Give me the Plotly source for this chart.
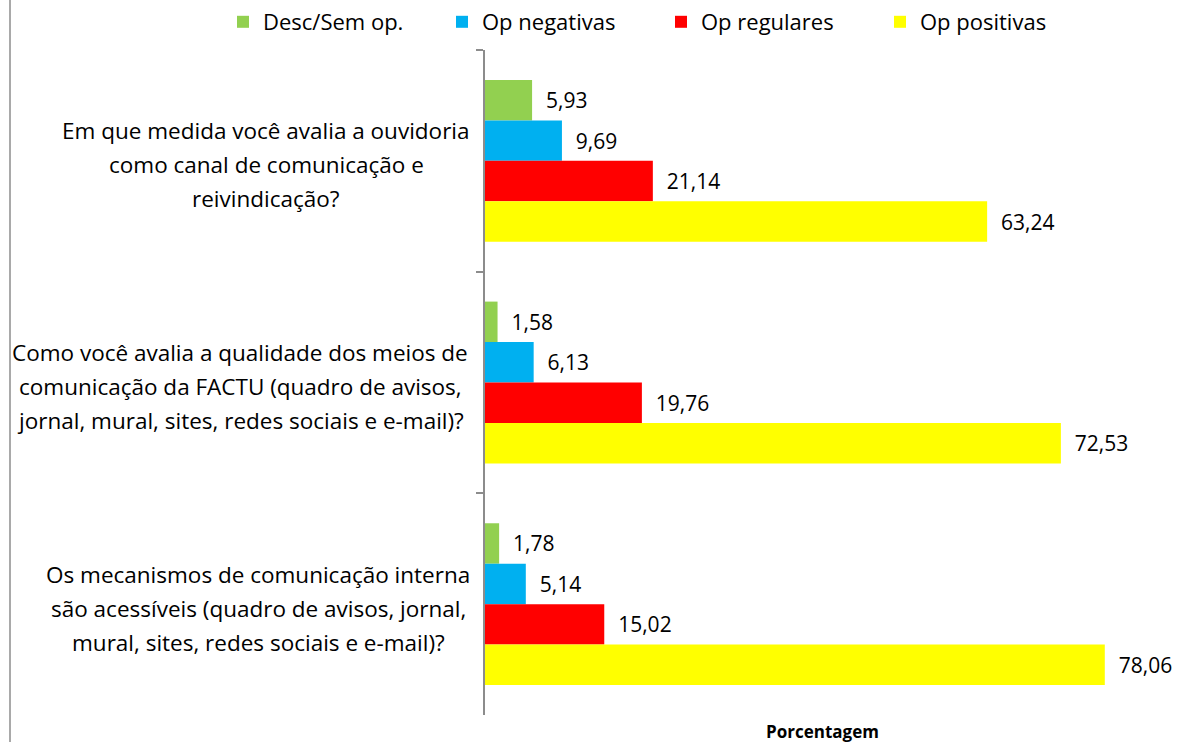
import plotly.graph_objects as go

categories = [
    "Em que medida você avalia a ouvidoria<br>como canal de comunicação e<br>reivindicação?",
    "Como você avalia a qualidade dos meios de<br>comunicação da FACTU (quadro de avisos,<br>jornal, mural, sites, redes sociais e e-mail)?",
    "Os mecanismos de comunicação interna<br>são acessíveis (quadro de avisos, jornal,<br>mural, sites, redes sociais e e-mail)?",
]
cat_ids = ["q1", "q2", "q3"]
series_names = ["Desc/Sem op.", "Op negativas", "Op regulares", "Op positivas"]
desc = [5.93, 1.58, 1.78]
neg = [9.69, 6.13, 5.14]
reg = [21.14, 19.76, 15.02]
pos = [63.24, 72.53, 78.06]
colors = ["#92d050", "#00b0f0", "#ff0000", "#ffff00"]

# horizontal centre (px) of each category label block
label_centers_px = [266, 240, 258]

W, H = 1184, 742
L, T, B = 485, 50, 27
R = 0
plot_w = W - L - R
plot_h = H - T - B
px_per_unit = 7.94
xmax = plot_w / px_per_unit

fig = go.Figure()
for name, vals, col in zip(series_names, [desc, neg, reg, pos], colors):
    fig.add_trace(go.Bar(
        y=cat_ids, x=vals, name=name, orientation="h",
        marker=dict(color=col, line=dict(width=0)),
        texttemplate="\u00a0\u00a0%{x:.2f}", textposition="outside",
        textfont=dict(size=21, color="black", family="Open Sans"),
        cliponaxis=False,
    ))

line_gap = 34
for cid, lab, cx in zip(cat_ids, categories, label_centers_px):
    lines = lab.split("<br>")
    n = len(lines)
    for i, ln in enumerate(lines):
        off = (i - (n - 1) / 2) * line_gap
        fig.add_annotation(x=0, y=cid, xref="x", yref="y", text=ln, showarrow=False,
                           xanchor="center", xshift=-(L - cx), yshift=-4 - off,
                           font=dict(size=22.5, color="black", family="Open Sans"))

fig.add_annotation(x=(822 - L) / plot_w, y=0, xref="paper", yref="paper",
                   yanchor="top", yshift=-3, text="<b>Porcentagem</b>", showarrow=False,
                   font=dict(size=17, color="black", family="Open Sans"))

fig.add_shape(type="line", xref="paper", yref="paper",
              x0=(10 - L) / plot_w, x1=(10 - L) / plot_w, y0=-B / plot_h, y1=(H - B) / plot_h,
              line=dict(color="#8c8c8c", width=1.5))

fig.update_layout(
    width=W, height=H,
    margin=dict(l=L, r=R, t=T, b=B, pad=0, autoexpand=False),
    paper_bgcolor="white", plot_bgcolor="white",
    barmode="group", bargap=0.27, bargroupgap=0,
    separators=", ",
    showlegend=True,
    legend=dict(orientation="h", xref="paper", yref="paper",
                x=(223 - L) / plot_w, y=1 + (T - 1) / plot_h,
                xanchor="left", yanchor="top",
                font=dict(size=22, color="black", family="Open Sans"),
                entrywidth=174, entrywidthmode="pixels", itemwidth=30,
                traceorder="normal"),
    xaxis=dict(range=[0, xmax], visible=False, showgrid=False, zeroline=False),
    yaxis=dict(autorange="reversed", showticklabels=False, showline=True,
               linecolor="#8c8c8c", linewidth=1.5, ticks="outside", ticklen=7,
               tickcolor="#8c8c8c", tickwidth=1.5, tickson="boundaries", showgrid=False),
    font=dict(family="Open Sans"),
)

fig.write_html("out.html", config={"displayModeBar": False},
               post_script="document.body.style.margin='0';document.body.style.padding='0';")
